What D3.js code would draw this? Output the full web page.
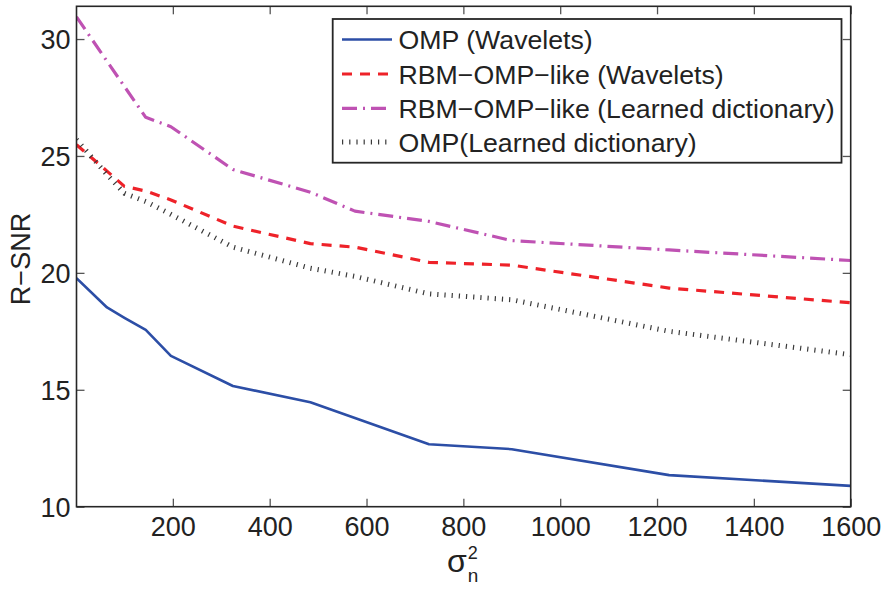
<!DOCTYPE html>
<html>
<head>
<meta charset="utf-8">
<script src="https://cdn.jsdelivr.net/npm/d3@7"></script>
<style>
  html, body { margin: 0; padding: 0; background: #fff; }
  svg { display: block; }
  text { font-family: "Liberation Sans", Arial, Helvetica, sans-serif; fill: #222; }
</style>
</head>
<body>
<svg id="chart" width="885" height="591"></svg>
<script>
// Noise variance values (sigma_n^2) shared by all curves
const sigma2 = [1, 64, 100, 144, 196, 324, 484, 576, 729, 900, 1225, 1600];

// R-SNR for each method
const ompWavelets   = [19.77, 18.52, 18.08, 17.56, 16.45, 15.16, 14.47, 13.79, 12.67, 12.46, 11.35, 10.89];
const rbmWavelets   = [25.48, 24.35, 23.70, 23.50, 23.12, 22.00, 21.25, 21.10, 20.45, 20.33, 19.35, 18.72];
const rbmDictionary = [30.95, 29.05, 27.97, 26.65, 26.25, 24.42, 23.45, 22.64, 22.20, 21.38, 20.98, 20.53];
const ompDictionary = [25.70, 24.20, 23.40, 23.05, 22.50, 21.10, 20.20, 19.85, 19.10, 18.85, 17.50, 16.50];

const seriesNames = [
  "OMP (Wavelets)",
  "RBM\u2212OMP\u2212like (Wavelets)",
  "RBM\u2212OMP\u2212like (Learned dictionary)",
  "OMP(Learned dictionary)"
];

const xTicks = [200, 400, 600, 800, 1000, 1200, 1400, 1600];
const yTicks = [10, 15, 20, 25, 30];

const styles = [
  { color: "#2c4ea6", width: 2.6, dash: null },
  { color: "#ee2229", width: 3.2, dash: "10 8" },
  { color: "#bf52b3", width: 3.2, dash: "15 6 2 6" },
  { color: "#3a3a3a", width: 5,   dash: "1.2 6" }
];

const svg = d3.select("#chart");
const plotL = 76.5, plotR = 850.7, plotT = 6.3, plotB = 506.7;

const x = d3.scaleLinear().domain([1, 1600]).range([plotL, plotR]);
const y = d3.scaleLinear().domain([10, 31.4]).range([plotB, plotT]);

const series = [ompWavelets, rbmWavelets, rbmDictionary, ompDictionary].map((vals, i) => ({
  name: seriesNames[i],
  style: styles[i],
  points: sigma2.map((s, j) => ({ x: s, y: vals[j] }))
}));

const line = d3.line().x(d => x(d.x)).y(d => y(d.y));

// clip to plot area
svg.append("defs").append("clipPath").attr("id", "plotclip")
  .append("rect").attr("x", plotL).attr("y", plotT)
  .attr("width", plotR - plotL).attr("height", plotB - plotT);

const plot = svg.append("g").attr("clip-path", "url(#plotclip)");

series.forEach(s => {
  plot.append("path")
    .datum(s.points)
    .attr("d", line)
    .attr("fill", "none")
    .attr("stroke", s.style.color)
    .attr("stroke-width", s.style.width)
    .attr("stroke-dasharray", s.style.dash)
    .attr("stroke-linejoin", "round");
});

// Axes: bottom/left with labels, top/right mirrored ticks (inward)
const tickLen = 8;
const axisColor = "#262626";
const tickFont = 27;
const legendFont = 26.7;

const xAxis = d3.axisBottom(x).tickValues(xTicks).tickSize(-tickLen).tickPadding(10)
  .tickFormat(d3.format("d"));
const gx = svg.append("g").attr("transform", `translate(0,${plotB})`).call(xAxis);
const xTop = d3.axisTop(x).tickValues(xTicks).tickSize(-tickLen).tickFormat("");
const gxt = svg.append("g").attr("transform", `translate(0,${plotT})`).call(xTop);

const yAxis = d3.axisLeft(y).tickValues(yTicks).tickSize(-tickLen).tickPadding(6)
  .tickFormat(d3.format("d"));
const gy = svg.append("g").attr("transform", `translate(${plotL},0)`).call(yAxis);
const yRight = d3.axisRight(y).tickValues(yTicks).tickSize(-tickLen).tickFormat("");
const gyr = svg.append("g").attr("transform", `translate(${plotR},0)`).call(yRight);

[gx, gxt, gy, gyr].forEach(g => {
  g.select(".domain").remove();
  g.selectAll(".tick line").attr("stroke", "#555").attr("stroke-width", 1.3);
  g.selectAll(".tick text")
    .attr("font-size", tickFont)
    .attr("font-family", '"Liberation Sans", Arial, sans-serif')
    .attr("fill", "#222");
});
gy.selectAll(".tick text").attr("dy", "0.36em");
gx.selectAll(".tick text").attr("dy", "0.72em");

// plot box
svg.append("rect")
  .attr("x", plotL).attr("y", plotT)
  .attr("width", plotR - plotL).attr("height", plotB - plotT)
  .attr("fill", "none").attr("stroke", axisColor).attr("stroke-width", 1.6);

// y-axis title
svg.append("text")
  .attr("transform", `translate(30,259) rotate(-90)`)
  .attr("text-anchor", "middle")
  .attr("font-size", tickFont)
  .text("R\u2212SNR");

// x-axis title: sigma_n^2
const xt = svg.append("text")
  .attr("x", 447).attr("y", 572)
  .attr("font-size", 32);
xt.append("tspan").text("\u03c3");
xt.append("tspan").attr("font-size", 18).attr("dy", -13).attr("dx", 1).text("2");
xt.append("tspan").attr("font-size", 19).attr("dx", -10).attr("dy", 23).text("n");

// legend
const lg = svg.append("g");
const lgL = 332.7, lgT = 19, lgR = 841.5, lgB = 162.7;
lg.append("rect")
  .attr("x", lgL).attr("y", lgT)
  .attr("width", lgR - lgL).attr("height", lgB - lgT)
  .attr("fill", "#fff").attr("stroke", axisColor).attr("stroke-width", 1.8);

const rowY = [39.5, 74, 108.3, 142];
series.forEach((s, i) => {
  lg.append("line")
    .attr("x1", 342).attr("x2", 392)
    .attr("y1", rowY[i]).attr("y2", rowY[i])
    .attr("stroke", s.style.color)
    .attr("stroke-width", s.style.width)
    .attr("stroke-dasharray", s.style.dash);
  lg.append("text")
    .attr("x", 398.5).attr("y", rowY[i])
    .attr("dy", "0.36em")
    .attr("font-size", legendFont)
    .text(s.name);
});
</script>
</body>
</html>
